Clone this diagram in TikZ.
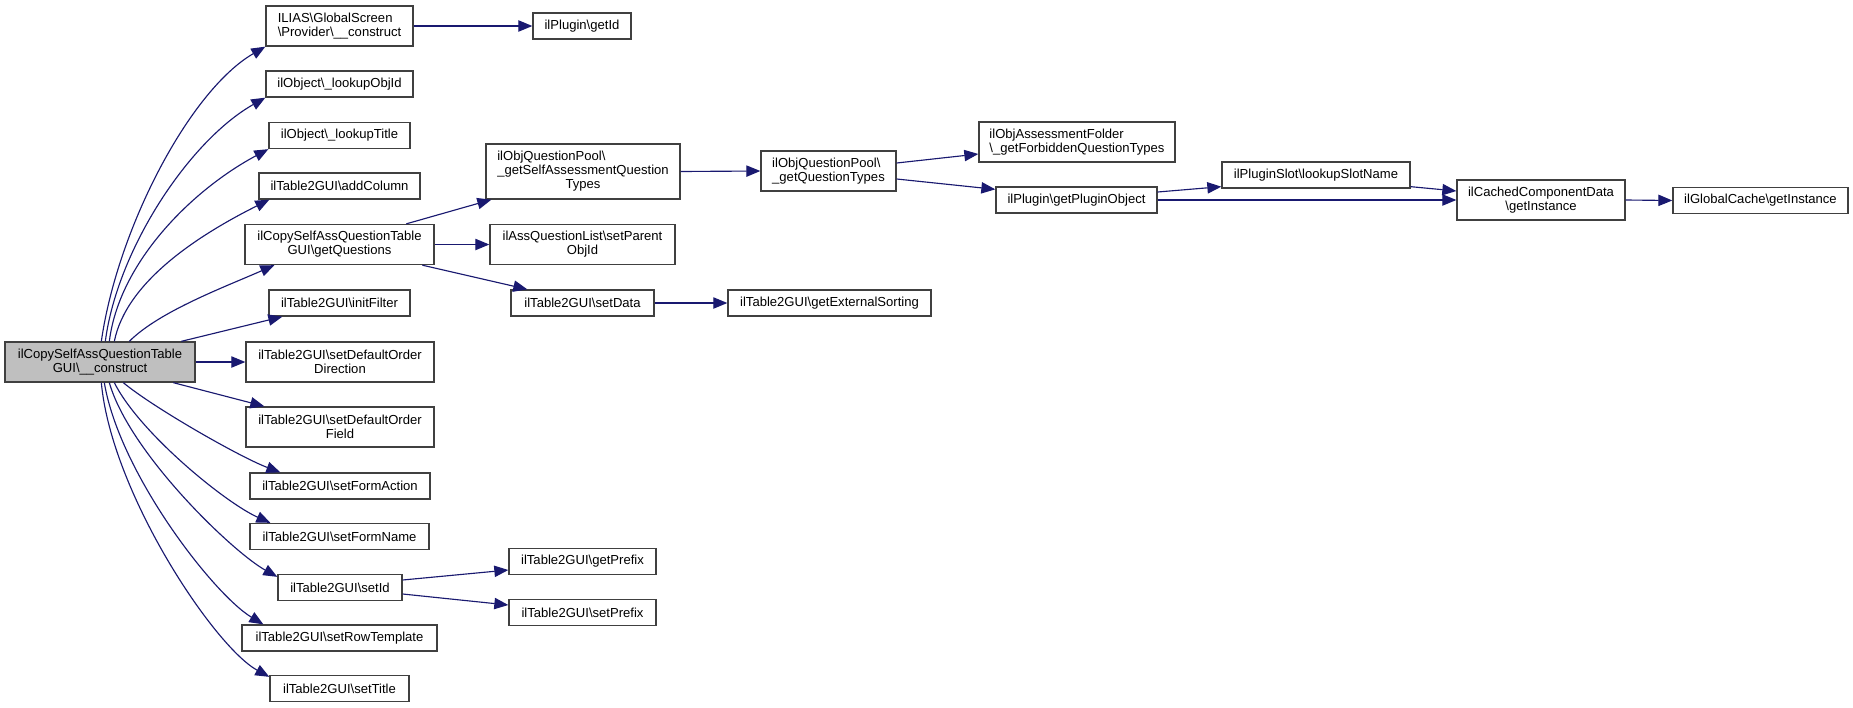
\documentclass[tikz,border=0pt]{standalone}
\usepackage{fontspec}
\setmainfont{Liberation Sans}
\usetikzlibrary{arrows.meta, calc}

\definecolor{callblue}{HTML}{191970}
\definecolor{boxline}{HTML}{404040}
\definecolor{rootfill}{HTML}{BFBFBF}
\newcommand{\bsl}{\textbackslash}

\begin{document}
\begin{tikzpicture}[x=0.75pt, y=-0.75pt,
  fn/.style={draw=boxline, line width=1pt, fill=white, inner sep=0pt,
    minimum height=19.5pt, font=\fontsize{9.8}{10.5}\selectfont},
  boxw/.style={minimum width=#1*0.75pt},
  tall/.style={minimum height=30pt},
  taller/.style={minimum height=41.25pt},
  call/.style={draw=callblue, line width=0.85pt, -{Triangle[length=10.5pt, width=8.5pt]}}]
\useasboundingbox (0,0) rectangle (1853,707);
\fill[white] (0,0) rectangle (1853,707);

% Root function
\node[fn, tall, boxw=190, fill=rootfill, align=center] (main) at (100,362)
  {ilCopySelfAssQuestionTable\\GUI\bsl\_\_construct};

% First column of callees
\node[fn, tall, boxw=147, align=left] (prov) at (339.5,26)
  {ILIAS\bsl GlobalScreen\\\bsl Provider\bsl\_\_construct};
\node[fn, boxw=147] (lookupobj) at (339.5,84) {ilObject\bsl\_lookupObjId};
\node[fn, boxw=141] (lookuptitle) at (339.5,135.5) {ilObject\bsl\_lookupTitle};
\node[fn, boxw=161] (addcol) at (339.5,186) {ilTable2GUI\bsl addColumn};
\node[fn, tall, boxw=189, align=center] (getq) at (339.5,244.5)
  {ilCopySelfAssQuestionTable\\GUI\bsl getQuestions};
\node[fn, boxw=141] (initfilter) at (339.5,303) {ilTable2GUI\bsl initFilter};
\node[fn, tall, boxw=188, align=center] (sdod) at (340,362)
  {ilTable2GUI\bsl setDefaultOrder\\Direction};
\node[fn, tall, boxw=188, align=center] (sdof) at (340,427)
  {ilTable2GUI\bsl setDefaultOrder\\Field};
\node[fn, boxw=180] (formaction) at (340,486) {ilTable2GUI\bsl setFormAction};
\node[fn, boxw=179] (formname) at (339.5,536.5) {ilTable2GUI\bsl setFormName};
\node[fn, boxw=124] (setid) at (340,587.5) {ilTable2GUI\bsl setId};
\node[fn, boxw=195] (rowtpl) at (339.5,638) {ilTable2GUI\bsl setRowTemplate};
\node[fn, boxw=139] (settitle) at (339.5,688.5) {ilTable2GUI\bsl setTitle};

% Second column
\node[fn, boxw=98] (getid) at (582,26) {ilPlugin\bsl getId};
\node[fn, taller, boxw=194, align=center] (getself) at (583,171.5)
  {\rlap{ilObjQuestionPool\bsl}\phantom{\_getSelfAssessmentQuestion}\\\_getSelfAssessmentQuestion\\Types};
\node[fn, tall, boxw=185, align=center] (setparent) at (582.5,244.5)
  {ilAssQuestionList\bsl setParent\\ObjId};
\node[fn, boxw=143] (setdata) at (582.5,303) {ilTable2GUI\bsl setData};
\node[fn, boxw=147] (getprefix) at (582.5,561.5) {ilTable2GUI\bsl getPrefix};
\node[fn, boxw=147] (setprefix) at (582.5,612.5) {ilTable2GUI\bsl setPrefix};

% Further columns
\node[fn, tall, boxw=135, align=left] (getqtypes) at (828.5,171)
  {ilObjQuestionPool\bsl\\\_getQuestionTypes};
\node[fn, boxw=203] (extsort) at (829.5,303) {ilTable2GUI\bsl getExternalSorting};
\node[fn, tall, boxw=196, align=left] (assessfolder) at (1077,142)
  {ilObjAssessmentFolder\\\bsl\_getForbiddenQuestionTypes};
\node[fn, boxw=161] (pluginobj) at (1076.5,200) {ilPlugin\bsl getPluginObject};
\node[fn, boxw=188] (lookupslot) at (1316,175) {ilPluginSlot\bsl lookupSlotName};
\node[fn, tall, boxw=168, align=center] (cached) at (1541,200)
  {ilCachedComponentData\\\bsl getInstance};
\node[fn, boxw=175] (globalcache) at (1760.5,200.5) {ilGlobalCache\bsl getInstance};

% Calls from the root, upwards
\draw[call] ($(main.north west)+(97,0)$) .. controls +(16,-112) and +(-76,44) .. (prov.south west);
\draw[call] ($(main.north west)+(101,0)$) .. controls +(12,-92) and +(-76,43) .. (lookupobj.south west);
\draw[call] ($(main.north west)+(105,0)$) .. controls +(10,-80) and +(-75,40) .. (lookuptitle.south west);
\draw[call] ($(main.north west)+(110,0)$) .. controls +(12,-60) and +(-70,35) .. ($(addcol.south west)+(11,0)$);
\draw[call] ($(main.north west)+(125,0)$) .. controls +(30,-30) and +(-50,22) .. ($(getq.south west)+(30,0)$);
\draw[call] ($(main.north west)+(177,0)$) -- ($(initfilter.south west)+(14,0)$);

% Calls from the root, downwards
\draw[call] (main.east) -- (sdod.west);
\draw[call] ($(main.south west)+(169,0)$) -- ($(sdof.north west)+(19,0)$);
\draw[call] ($(main.south west)+(119,0)$) .. controls +(30,25) and +(-40,-15) .. ($(formaction.north west)+(31,0)$);
\draw[call] ($(main.south west)+(110,0)$) .. controls +(25,50) and +(-45,-20) .. ($(formname.north west)+(21,0)$);
\draw[call] ($(main.south west)+(105,0)$) .. controls +(20,70) and +(-45,-25) .. ($(setid.north west)+(0,3)$);
\draw[call] ($(main.south west)+(100,0)$) .. controls +(15,90) and +(-50,-30) .. ($(rowtpl.north west)+(22,0)$);
\draw[call] ($(main.south west)+(97,0)$) .. controls +(10,110) and +(-55,-30) .. ($(settitle.north west)+(0,2)$);

% Straight calls
\foreach \a/\b in {prov/getid, getq/setparent, getself/getqtypes, pluginobj/cached,
                   cached/globalcache, setdata/extsort}
  \draw[call] (\a.east) -- (\b.west);

% Remaining slanted calls
\draw[call] ($(getq.north west)+(162,0)$) -- ($(getself.south west)+(6,0)$);
\draw[call] ($(getq.south west)+(178,0)$) -- ($(setdata.north west)+(17,0)$);
\draw[call] ($(getqtypes.east)+(0,-8)$) -- ($(assessfolder.west)+(0,12)$);
\draw[call] ($(getqtypes.east)+(0,8)$) -- ($(pluginobj.north west)+(0,3)$);
\draw[call] ($(pluginobj.east)+(0,-8)$) -- ($(lookupslot.south west)+(0,-2)$);
\draw[call] ($(lookupslot.south east)+(0,-2)$) -- ($(cached.west)+(0,-9)$);
\draw[call] ($(setid.east)+(0,-7.5)$) -- ($(getprefix.west)+(0,8.5)$);
\draw[call] ($(setid.east)+(0,6.5)$) -- ($(setprefix.west)+(0,-7.5)$);
\end{tikzpicture}
\end{document}
